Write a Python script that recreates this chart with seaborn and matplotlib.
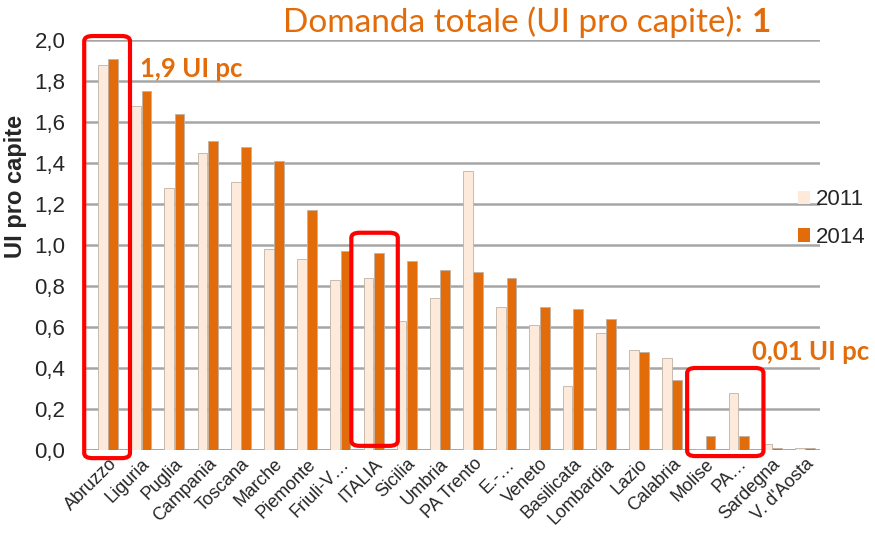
import pandas as pd
import numpy as np
import matplotlib.pyplot as plt
import seaborn as sns
from matplotlib.patches import FancyBboxPatch, Patch

# values
regioni = ["Abruzzo", "Liguria", "Puglia", "Campania", "Toscana", "Marche",
           "Piemonte", "Friuli-V…", "ITALIA", "Sicilia", "Umbria", "PA Trento",
           "E.-…", "Veneto", "Basilicata", "Lombardia", "Lazio", "Calabria",
           "Molise", "PA…", "Sardegna", "V. d'Aosta"]
v2011 = [1.88, 1.68, 1.28, 1.45, 1.31, 0.98, 0.93, 0.83, 0.84, 0.63, 0.74,
         1.36, 0.70, 0.61, 0.31, 0.57, 0.49, 0.45, 0.005, 0.28, 0.03, 0.01]
v2014 = [1.91, 1.75, 1.64, 1.51, 1.48, 1.41, 1.17, 0.97, 0.96, 0.92, 0.88,
         0.87, 0.84, 0.70, 0.69, 0.64, 0.48, 0.34, 0.07, 0.07, 0.01, 0.01]
anni = ["2011", "2014"]
yticks = [0.0, 0.2, 0.4, 0.6, 0.8, 1.0, 1.2, 1.4, 1.6, 1.8, 2.0]

orange = "#E36C0A"
cream = "#FDEADA"
title_font = ["Lato", "DejaVu Sans"]

df = pd.DataFrame({
    "regione": regioni * 2,
    "anno": [anni[0]] * len(regioni) + [anni[1]] * len(regioni),
    "valore": v2011 + v2014,
})

sns.set_style("white")
plt.rcParams["font.family"] = ["Liberation Sans", "DejaVu Sans"]

fig = plt.figure(figsize=(8.75, 5.35), dpi=100)
ax = fig.add_axes([0.097, 0.159, 0.84, 0.766])

sns.barplot(data=df, x="regione", y="valore", hue="anno", order=regioni,
            hue_order=anni, palette=[cream, orange], saturation=1,
            width=0.62, gap=0.05, edgecolor="#BFB2A5", linewidth=0.6,
            ax=ax, legend=False)

ax.set_ylim(0, 2.0)
ax.set_xlim(-0.7, 21.45)
ax.set_yticks(yticks)
ax.set_yticklabels([f"{t:.1f}".replace(".", ",") for t in yticks], fontsize=16)
ax.grid(axis="y", color="#A6A6A6", linewidth=1.8)
ax.set_axisbelow(True)
for s in ax.spines.values():
    s.set_visible(False)
ax.axhline(0, color="#A6A6A6", linewidth=2, zorder=0)

ax.set_xlabel("")
ax.set_ylabel("UI pro capite", fontsize=17, fontweight="bold")
ax.yaxis.set_label_coords(-0.079, 0.643)
ax.set_xticks(range(len(regioni)))
ax.set_xticklabels(regioni, rotation=45, ha="right", rotation_mode="anchor",
                   fontsize=13)
ax.tick_params(axis="x", length=0, pad=4)
ax.tick_params(axis="y", length=0, pad=14)

# legend
handles = [Patch(facecolor=cream, edgecolor="none"),
           Patch(facecolor=orange, edgecolor="none")]
ax.legend(handles, anni, loc="center left", bbox_to_anchor=(0.958, 0.565),
          frameon=False, fontsize=16, handlelength=0.55, handleheight=0.55,
          handletextpad=0.25, labelspacing=0.75, borderaxespad=0)

# highlight boxes
def box(x0, x1, y0, y1):
    p = FancyBboxPatch((x0, y0), x1 - x0, y1 - y0,
                       boxstyle="round,pad=0,rounding_size=0.25",
                       transform=ax.transData, fill=False, edgecolor="#FF0000",
                       linewidth=3, clip_on=False, zorder=5,
                       mutation_aspect=0.1)
    ax.add_patch(p)

box(-0.72, 0.66, -0.04, 2.02)
box(7.33, 8.73, 0.02, 1.06)
box(17.45, 19.75, -0.03, 0.40)

ax.text(0.95, 1.86, "1,9 UI pc", color=orange, fontsize=18.5, fontweight="bold",
        family=title_font, va="center")
ax.text(19.4, 0.48, "0,01 UI pc", color=orange, fontsize=18.5, fontweight="bold",
        family=title_font, va="center")

# title: regular part followed by a bold "1"
t1 = fig.text(283 / 875, 1 - 22 / 535, "Domanda totale (UI pro capite): ",
              color=orange, fontsize=24, family=title_font, va="center")
fig.canvas.draw()
bb = t1.get_window_extent()
fig.text(bb.x1 / 875, 1 - 22 / 535, "1", color=orange, fontsize=24,
         fontweight="bold", family=title_font, va="center")

fig.savefig("out.png", dpi=100)
